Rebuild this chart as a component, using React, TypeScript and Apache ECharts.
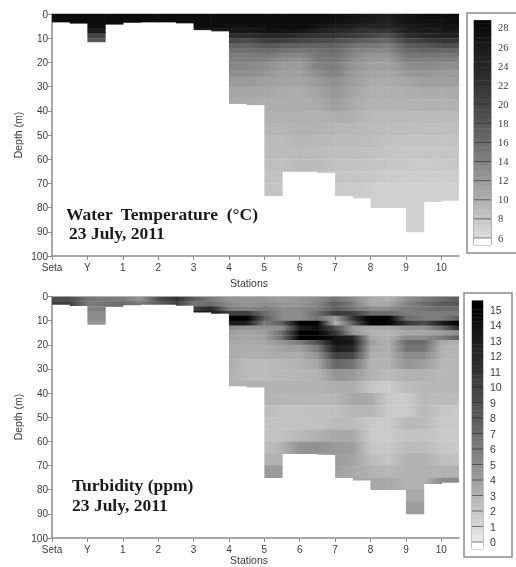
import React, { useEffect, useRef } from "react";
import * as echarts from "echarts";

const stationLabels = ["Seta", "Y", "1", "2", "3", "4", "5", "6", "7", "8", "9", "10"];
const stationTicks = [0, 1, 2, 3, 4, 5, 6, 7, 8, 9, 10, 11];
const nodeStep = 0.5;
// lake bottom depth in every half-station column
const bottomDepth = [3.3, 3.8, 11.5, 4.2, 3.5, 3.3, 3.3, 3.7, 6.5, 7, 37, 37.5, 75, 65, 65, 65.5, 75, 76, 80, 81, 90, 77.5, 77];
const depthEdges = [0, 2, 4, 6, 8, 10, 12, 14, 16, 18, 20, 23, 26, 30, 35, 40, 45, 50, 55, 60, 65, 70, 75, 80, 85, 90];

// each row is right-aligned on the half-station nodes (last entry = right edge of the plot)
const temperatureRows = [
  [28, 28, 28, 28, 28, 28, 28, 28, 28, 28, 28, 28, 28, 28, 28, 28, 28, 27, 26, 25.5, 27, 28, 28, 28],
  [28, 28, 28, 28, 28, 28, 28, 28, 28, 28, 28, 28, 28, 28, 28, 28, 27.5, 26.5, 25.5, 25, 27, 27.5, 27.5, 28],
  [28, 28, 28, 28, 28, 28, 28, 28, 28, 28, 27.5, 27.5, 27.5, 28, 28, 27, 26, 25, 24, 24, 26, 26.5, 27, 27],
  [26, 26, 26, 26, 26, 26, 26, 26, 26, 26, 26.5, 26.5, 27, 27, 27, 25, 24, 23, 22, 22, 25, 26, 26, 26],
  [20, 20, 20, 20, 20, 20, 20, 20, 20, 20, 23, 23, 24, 24, 23, 22, 22, 21, 20, 18.5, 23, 24, 25, 25],
  [18, 18, 18, 18, 18, 18, 18, 18, 18, 18, 20, 19, 21, 21, 20, 19.5, 19, 18, 17, 16.5, 20, 21, 22, 22],
  [17, 17, 18, 17.5, 17, 17, 17, 15.5, 15, 14.5, 17.5, 18, 19, 19],
  [15.5, 15.5, 16, 15.5, 15, 15.5, 16, 14, 13.5, 13.5, 16, 16.5, 16.5, 16.5],
  [14.5, 14.5, 15, 14, 13.5, 15, 15.5, 13.5, 12.5, 12.5, 15, 15, 15, 15],
  [14, 14, 14, 13, 12.5, 14.5, 15, 13, 12, 12, 14, 14, 14, 14],
  [13.5, 13.5, 13, 12, 12, 14, 14.5, 12.5, 11.5, 11.5, 13, 13.5, 13, 13],
  [13, 13, 12.5, 11.5, 11.5, 13, 14, 12, 11, 11, 12, 12.5, 12, 12],
  [12, 12, 11.5, 11.2, 11, 12, 13, 11.5, 10.5, 10.5, 11, 11.5, 11.5, 11.5],
  [11, 11, 10.8, 10.5, 10.4, 11, 12.5, 11, 10, 10, 10.2, 10.5, 10.5, 10.5],
  [10.5, 10.5, 10.3, 10.3, 10.3, 10.5, 11.7, 10.5, 9.7, 9.7, 9.6, 9.7, 9.8, 9.8],
  [9.9, 9.9, 10, 9.7, 10.2, 10, 9.2, 9.1, 9, 9, 9, 9],
  [9.5, 9.5, 9.8, 9.7, 9.4, 9.4, 9, 8.8, 8.7, 8.6, 8.6, 8.7],
  [9.1, 9, 9.4, 9.2, 8.9, 8.9, 8.7, 8.4, 8.3, 8.3, 8.3, 8.4],
  [8.9, 8.8, 9.1, 8.9, 8.6, 8.6, 8.5, 8.2, 8, 8, 8, 8],
  [8.7, 8.6, 9, 8.9, 8.5, 8.3, 8.2, 8, 7.8, 7.7, 7.8, 7.8],
  [8.4, 8.4, 8.4, 8.4, 8.2, 8, 7.9, 7.5, 7.4, 7.4, 7.4, 7.4],
  [8.2, 8.2, 8.2, 8.2, 7.8, 7.7, 7.3, 7.2, 7.2, 7.2, 7.2, 7.2],
  [7.6, 7.3, 7.2, 7.1, 7.1, 7.1, 7.1, 7.1],
  [7, 7, 7, 7],
  [7, 7, 7, 7],
];

const turbidityRows = [
  [9, 9, 6.5, 6, 6, 4.5, 9, 11, 8, 6, 4.5, 4.5, 4.5, 4, 4.5, 5, 6.5, 5, 3.5, 3, 4.5, 6, 7, 8],
  [10, 10, 6, 6.5, 7, 6, 8, 10, 6.5, 7, 5, 4.5, 5, 4.5, 4.5, 5.5, 8, 6, 3.5, 3.5, 5.5, 7, 8, 8.5],
  [10, 10, 5.5, 6, 6, 6, 6, 6, 10, 12, 6, 5.5, 6, 5, 5, 6, 8, 6.5, 5, 5, 6, 6.5, 7, 7],
  [5, 5, 5, 5, 5, 5, 5, 5, 13, 13, 10, 10, 7, 5, 5, 7, 10.5, 10, 7, 7, 6, 6, 6, 6],
  [5, 5, 5, 5, 5, 5, 5, 5, 5, 5, 15, 15, 8, 5, 5, 6.5, 4, 11, 15, 15, 7, 6, 6, 8],
  [4.5, 4.5, 4.5, 4.5, 4.5, 4.5, 4.5, 4.5, 4.5, 4.5, 13, 13, 6, 8, 15, 15, 3, 8, 15, 15, 11, 9, 13, 15],
  [5, 4.5, 4.5, 5, 13, 14, 9, 4, 3.5, 3.5, 4.5, 4.5, 7, 12],
  [4, 3.7, 4, 7, 15, 15, 11, 4.5, 3, 3, 3.5, 3.5, 4, 5],
  [3.8, 3.5, 3.8, 7, 15, 15, 14, 12, 3.5, 3, 5, 5, 6, 8],
  [3.5, 3.3, 3.5, 4.5, 6, 9, 14, 13, 4, 3, 7, 7, 3.5, 3],
  [3.3, 3.3, 3.3, 3.8, 4, 6, 13, 12, 3.5, 3, 6.5, 6.5, 3, 2.8],
  [3.3, 3.1, 3.2, 3.3, 3.3, 4.5, 10, 9.5, 3.2, 3, 5, 5, 3, 2.7],
  [3.2, 2.6, 2.5, 2.8, 3, 3.5, 7.5, 6.5, 3, 2.9, 4.5, 4, 2.8, 2.7],
  [3.1, 2.5, 2.5, 2.7, 2.8, 3, 4.5, 4.2, 3, 2.5, 3, 3, 2.7, 2.7],
  [3, 3, 3, 3, 3, 3, 3.2, 3.2, 2, 1.7, 2.5, 2.7, 2.7, 2.7],
  [3, 2.8, 2.8, 2.8, 2.8, 3.6, 3.4, 1.8, 1.7, 2.7, 2.5, 2.5],
  [2.5, 2.2, 2.2, 2.3, 2.3, 2.8, 2.8, 1.8, 1.7, 2.7, 2, 1.8],
  [2.2, 2.2, 2.2, 2.2, 2.5, 2.5, 1.8, 1.7, 2.7, 2.6, 1.9, 1.8],
  [2.2, 2.2, 2.6, 3, 3.5, 3.4, 1.8, 1.7, 2.2, 2.2, 1.9, 1.8],
  [2.3, 3, 4.6, 4.8, 4.3, 4, 2, 1.8, 2.5, 2.5, 2, 1.8],
  [3, 3, 3, 3, 4, 3.7, 2.5, 2, 3, 3, 2.4, 2.2],
  [4.2, 4.2, 3, 3, 3.8, 3.4, 3, 2.7, 3, 3, 3, 3],
  [3.8, 3.8, 3.5, 3.5, 3, 3, 5, 5],
  [3.5, 3.5, 3.5, 3.5],
  [4, 4, 4, 4],
];

const temperatureLegendTicks = [6, 8, 10, 12, 14, 16, 18, 20, 22, 24, 26, 28];
const turbidityLegendTicks = [0, 1, 2, 3, 4, 5, 6, 7, 8, 9, 10, 11, 12, 13, 14, 15];
const temperatureGreyLevels = [6, 8, 10, 12, 14, 16, 18, 20, 22, 24, 26, 28, 29];
const temperatureGreys = [222, 198, 176, 155, 130, 108, 88, 68, 52, 38, 26, 12, 5];
const turbidityGreyLevels = [0, 1, 2, 3, 4, 5, 6, 7, 8, 9, 10, 11, 12, 13, 14, 15, 16];
const turbidityGreys = [235, 215, 198, 178, 158, 140, 124, 108, 92, 78, 64, 52, 40, 28, 16, 0, 0];

const greyOf = (levels: number[], greys: number[]) => (v: number) => {
  if (v < levels[0]) return "#ffffff";
  let g = greys[greys.length - 1];
  for (let i = 0; i < levels.length - 1; i++) {
    if (v <= levels[i + 1]) {
      g = greys[i] + ((greys[i + 1] - greys[i]) * (v - levels[i])) / (levels[i + 1] - levels[i]);
      break;
    }
  }
  const c = Math.round(g);
  return `rgb(${c},${c},${c})`;
};
const tempGrey = greyOf(temperatureGreyLevels, temperatureGreys);
const turbGrey = greyOf(turbidityGreyLevels, turbidityGreys);

function fieldCells(rows: number[][]) {
  const cells: number[][] = [];
  rows.forEach((row, r) => {
    const offset = 24 - row.length;
    for (let i = 0; i < row.length - 1; i++) {
      const col = offset + i;
      const top = depthEdges[r];
      const bottom = Math.min(depthEdges[r + 1], bottomDepth[col]);
      if (top >= bottom) continue;
      cells.push([col * nodeStep, (col + 1) * nodeStep, top, bottom, row[i], row[i + 1]]);
    }
  });
  return cells;
}

const fieldSeries = (rows: number[][], idx: number, grey: (v: number) => string) => ({
  type: "custom",
  xAxisIndex: idx,
  yAxisIndex: idx,
  silent: true,
  clip: true,
  encode: { x: [0, 1], y: [2, 3] },
  data: fieldCells(rows),
  renderItem: (_: any, api: any) => {
    const p0 = api.coord([api.value(0), api.value(2)]);
    const p1 = api.coord([api.value(1), api.value(3)]);
    return {
      type: "rect",
      shape: { x: p0[0], y: p0[1], width: p1[0] - p0[0] + 0.6, height: p1[1] - p0[1] + 0.4 },
      style: {
        fill: new echarts.graphic.LinearGradient(0, 0, 1, 0, [
          { offset: 0, color: grey(api.value(4)) },
          { offset: 1, color: grey(api.value(5)) },
        ]),
      },
    };
  },
});

const legendSeries = (lo: number, hi: number, step: number, ticks: number[], idx: number, grey: (v: number) => string) => {
  const cells: number[][] = [];
  for (let v = ticks[0]; v < hi - 1e-6; v += step) cells.push([v, Math.min(v + step, hi), 0]);
  cells.push([lo, ticks[0], 0]);
  ticks.forEach((t) => cells.push([t, t, 1]));
  return {
    type: "custom",
    xAxisIndex: idx,
    yAxisIndex: idx,
    silent: true,
    encode: { y: [0, 1] },
    data: cells,
    renderItem: (_: any, api: any) => {
      const a = api.coord([0, api.value(0)]);
      const b = api.coord([1, api.value(1)]);
      if (api.value(2) === 1) {
        return {
          type: "line",
          shape: { x1: a[0], y1: a[1], x2: b[0], y2: a[1] },
          style: { stroke: "rgba(30,30,30,0.55)", lineWidth: 1 },
        };
      }
      return {
        type: "rect",
        shape: { x: a[0], y: b[1], width: b[0] - a[0], height: a[1] - b[1] + 0.4 },
        style: { fill: grey((api.value(0) + api.value(1)) / 2) },
      };
    },
  };
};

const axisGrey = "#8c8c8c";
const labelColor = "#3a3a3a";
const sans = "'Liberation Sans', Arial, sans-serif";
const serif = "'Liberation Serif', 'Times New Roman', serif";

const mainX = (gridIndex: number) => ({
  type: "value",
  gridIndex,
  min: 0,
  max: 11.5,
  position: "bottom",
  splitLine: { show: false },
  axisLine: { onZero: false, lineStyle: { color: axisGrey, width: 1.5 } },
  axisTick: { length: 4, customValues: stationTicks, lineStyle: { color: axisGrey, width: 1 } },
  axisLabel: {
    customValues: stationTicks,
    formatter: (v: number) => stationLabels[v] ?? "",
    color: labelColor,
    fontFamily: sans,
    fontSize: 10,
    margin: 6,
  },
});
const topX = (gridIndex: number) => ({
  type: "value",
  gridIndex,
  min: 0,
  max: 11.5,
  position: "top",
  splitLine: { show: false },
  axisLine: { onZero: false, lineStyle: { color: "#b4b4b4", width: 1.5 } },
  axisTick: { show: false },
  axisLabel: { show: false },
});
const mainY = (gridIndex: number) => ({
  type: "value",
  gridIndex,
  min: 0,
  max: 100,
  interval: 10,
  inverse: true,
  splitLine: { show: false },
  axisLine: { onZero: false, lineStyle: { color: axisGrey, width: 1.5 } },
  axisTick: { length: 4, lineStyle: { color: axisGrey, width: 1 } },
  axisLabel: { color: labelColor, fontFamily: sans, fontSize: 10, margin: 4, showMaxLabel: true, showMinLabel: true },
});
const legendX = (gridIndex: number) => ({ type: "value", gridIndex, min: 0, max: 1, show: false });
const legendY = (gridIndex: number, min: number, max: number, interval: number, ticks: number[], font: string, fs: number) => ({
  type: "value",
  gridIndex,
  min,
  max,
  interval,
  position: "right",
  splitLine: { show: false },
  axisLine: { show: false },
  axisTick: { show: false },
  axisLabel: {
    color: labelColor,
    fontFamily: font,
    fontSize: fs,
    margin: 7,
    formatter: (v: number) => (ticks.includes(v) ? String(v) : ""),
  },
});

const axisText = (text: string, x: number, y: number, rotation = 0) => ({
  type: "text",
  x,
  y,
  rotation,
  style: { text, fill: labelColor, font: `10.5px ${sans}`, textAlign: "center", textVerticalAlign: "middle" },
});
const titleText = (text: string, x: number, y: number) => ({
  type: "text",
  x,
  y,
  style: { text, fill: "#1a1a1a", font: `bold 17.5px ${serif}`, textAlign: "left", textVerticalAlign: "middle" },
});
const frame = (x: number, y: number, width: number, height: number) => ({
  type: "rect",
  shape: { x, y, width, height },
  style: { fill: "none", stroke: "#8c8c8c", lineWidth: 1.5 },
});

export default function App() {
  const ref = useRef<HTMLDivElement>(null);
  useEffect(() => {
    const chart = echarts.init(ref.current!, undefined, { renderer: "svg" });
    chart.setOption({
      animation: false,
      backgroundColor: "#ffffff",
      grid: [
        { left: 52, top: 14, width: 407, height: 242 },
        { left: 52, top: 296.5, width: 407, height: 241.5 },
        { left: 474, top: 8.8, width: 17, height: 248.3 },
        { left: 472, top: 294, width: 11, height: 263.5 },
      ],
      xAxis: [mainX(0), mainX(1), legendX(2), legendX(3), topX(0), topX(1)],
      yAxis: [
        mainY(0),
        mainY(1),
        legendY(2, 4, 30, 2, temperatureLegendTicks, serif, 10.5),
        legendY(3, -1, 16, 1, turbidityLegendTicks, sans, 10.5),
      ],
      series: [
        fieldSeries(temperatureRows, 0, tempGrey),
        fieldSeries(turbidityRows, 1, turbGrey),
        legendSeries(5.27, 28.8, 0.5, temperatureLegendTicks, 2, tempGrey),
        legendSeries(-0.45, 15.57, 0.25, turbidityLegendTicks, 3, turbGrey),
      ],
      graphic: [
        axisText("Depth (m)", 18, 135, Math.PI / 2),
        axisText("Depth (m)", 18, 417, Math.PI / 2),
        axisText("Stations", 249, 283),
        axisText("Stations", 249, 560),
        titleText("Water  Temperature  (°C)", 66, 214),
        titleText("23 July, 2011", 69, 233),
        titleText("Turbidity (ppm)", 72, 485),
        titleText("23 July, 2011", 72, 505),
        frame(467, 13, 60, 240),
        frame(464, 293, 48, 264),
        {
          type: "rect",
          shape: { x: 474, y: 20.5, width: 17, height: 224.5 },
          style: { fill: "none", stroke: "#666", lineWidth: 1 },
        },
        {
          type: "rect",
          shape: { x: 472, y: 300.7, width: 11, height: 248.3 },
          style: { fill: "none", stroke: "#888", lineWidth: 1 },
        },
      ],
    });
    return () => chart.dispose();
  }, []);
  return (
    <div
      ref={ref}
      style={{ position: "absolute", left: 0, top: 0, width: 516, height: 567, overflow: "hidden", filter: "blur(0.45px)" }}
    />
  );
}
